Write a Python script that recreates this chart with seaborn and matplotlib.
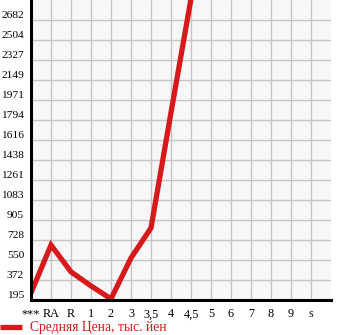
import numpy as np
import pandas as pd
import matplotlib
matplotlib.use("Agg")
import matplotlib.pyplot as plt
import seaborn as sns

categories = ["***", "RA", "R", "1", "2", "3", "3,5", "4", "4,5", "5", "6", "7", "8", "9", "s"]
prices = [258, 683, 445, 320, 205, 568, 835, 1860, 2870,
          np.nan, np.nan, np.nan, np.nan, np.nan, np.nan]
y_ticks = [195, 372, 550, 728, 905, 1083, 1261, 1438, 1616, 1794, 1971, 2149, 2327, 2504, 2682]
series_label = "Средняя Цена, тыс. йен"

sns.set_theme(style="white")
plt.rcParams["font.family"] = ["Liberation Serif", "DejaVu Serif"]

W, H = 345, 335
fig = plt.figure(figsize=(W / 100, H / 100), dpi=100)
ax = fig.add_axes([31 / W, 1 - 300 / H, 300 / W, 300 / H])
ax.set_facecolor("#f7f7f7")

df = pd.DataFrame({"pos": np.arange(len(categories)), "price": prices})
sns.lineplot(data=df, x="pos", y="price", ax=ax, color="#d6191b", linewidth=3.8,
             label=series_label, solid_joinstyle="miter", solid_capstyle="butt")

step = (y_ticks[-1] - y_ticks[0]) / (len(y_ticks) - 1)
ax.set_xlim(0, len(categories))
ax.set_ylim(y_ticks[0], y_ticks[-1] + step)

ax.set_xticks(np.arange(len(categories)))
ax.set_xticklabels(categories)
ax.set_yticks(y_ticks)
ax.set_yticklabels([str(v) for v in y_ticks], va="bottom")
ax.set_xlabel("")
ax.set_ylabel("")

ax.grid(True, color="#c4c4c4", linewidth=1.0)
ax.set_axisbelow(True)
for s in ["top", "right"]:
    ax.spines[s].set_visible(False)
for s in ["left", "bottom"]:
    ax.spines[s].set_color("black")
    ax.spines[s].set_linewidth(2.2)
ax.tick_params(axis="both", which="major", length=3, width=1, color="black",
               labelsize=8.8, labelcolor="black", direction="out")
ax.tick_params(axis="y", pad=2, labelsize=8.2)
ax.tick_params(axis="x", pad=3)

leg = ax.legend(loc="center left", bbox_to_anchor=(0.0, 1 - 328 / H),
                bbox_transform=fig.transFigure, frameon=False, fontsize=9.8,
                handlelength=1.6, handletextpad=0.6, borderaxespad=0, borderpad=0)
for t in leg.get_texts():
    t.set_color("#d6191b")

fig.savefig("out.png", dpi=100)
